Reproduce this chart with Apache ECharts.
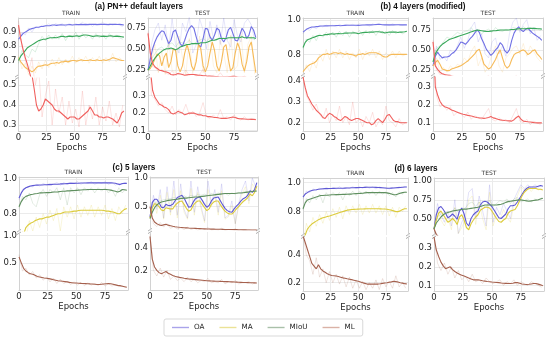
<!DOCTYPE html>
<html><head><meta charset="utf-8">
<script src="https://cdn.jsdelivr.net/npm/echarts@6/dist/echarts.min.js"></script>
<style>html,body{margin:0;padding:0;background:#fff}#c{width:550px;height:342px}</style>
</head><body><div id="c"></div><script>
// ---------- epochs ----------
const EP = [0,2,4,6,8,10,12,14,16,18,20,22,24,26,28,30,32,34,36,38,40,42,44,46,48,50,52,54,56,58,60,62,64,66,68,70,72,74,76,78,80,82,84,86,88,90,92,94];
const EP_RAW = [0,3,6,9,12,15,18,21,24,27,30,33,36,39,42,45,48,51,54,57,60,63,66,69,72,75,78,81,84,87,90,93];
const X_TICKS = [0,25,50,75];
const SERIES_NAMES = ['OA','MA','MIoU','ML'];

// ---------- (a) PN++ default layers ----------
const A_TRAIN_OA = [.85,.87,.89,.90,.91,.92,.925,.93, .935,.935,.94,.94,.945,.945,.945,.95, .95,.948,.95,.952,.95,.95,.952,.953, .95,.952,.953,.953,.955,.953,.955,.953, .955,.956,.955,.953,.955,.956,.955,.955, .953,.955,.956,.955,.954,.955,.953,.95];
const A_TRAIN_MIOU = [.70,.73,.75,.77,.79,.80,.81,.82, .83,.84,.845,.85,.85,.855,.86,.86, .862,.86,.865,.87,.87,.865,.87,.872, .87,.872,.875,.87,.875,.88,.88,.878, .875,.87,.872,.875,.873,.87,.872,.87, .872,.875,.872,.87,.872,.87,.868,.865];
const A_TRAIN_MA = [.72,.69,.67,.65,.64,.63,.62,.63, .65,.66,.66,.665,.67,.665,.675,.68, .68,.685,.68,.69,.69,.695,.69,.695, .70,.70,.695,.70,.705,.70,.70,.70, .705,.70,.70,.705,.70,.70,.705,.70, .705,.71,.72,.715,.71,.705,.70,.70];
const A_TRAIN_ML = [.95,.85,.78,.72,.67,.61,.55,.48, .40,.37,.38,.40,.43,.42,.41,.40, .38,.37,.37,.36,.35,.34,.33,.34, .34,.34,.33,.33,.34,.35,.36,.37, .39,.37,.35,.35,.34,.34,.335,.34, .34,.335,.33,.32,.31,.33,.36,.37];
const A_TRAIN_OA_RAW = [.84,.90,.88,.93,.90,.94,.93,.95, .94,.96,.94,.96,.95,.96,.94,.96, .95,.96,.95,.97,.95,.96,.94,.96, .95,.97,.95,.96,.95,.96,.95,.94];
const A_TRAIN_MIOU_RAW = [.68,.77,.74,.72,.78,.76,.82,.87, .84,.88,.85,.88,.85,.89,.84,.88, .86,.90,.85,.89,.86,.88,.85,.89, .86,.88,.85,.89,.86,.88,.86,.85];
const A_TRAIN_MA_RAW = [.74,.64,.68,.60,.66,.61,.69,.64, .70,.65,.71,.66,.72,.67,.71,.68, .73,.68,.72,.69,.73,.68,.72,.69, .73,.68,.72,.69,.75,.69,.72,.70];
const A_TRAIN_ML_RAW = [.98,.80,.70,.62,.72,.50,.58,.34, .45,.52,.30,.48,.36,.44,.30,.42, .31,.38,.29,.47,.30,.40,.33,.44, .30,.39,.32,.42,.30,.36,.29,.40];

const A_TEST_OA = [.25,.38,.50,.58,.64,.68,.71,.70, .63,.56,.60,.70,.72,.64,.56,.53, .60,.68,.74,.77,.74,.64,.55,.52, .62,.74,.73,.64,.60,.66,.74,.72, .62,.58,.63,.72,.75,.68,.60,.59, .66,.74,.70,.62,.66,.76,.72,.63];
const A_TEST_MIOU = [.25,.30,.35,.39,.42,.45,.47,.49, .50,.50,.51,.50,.49,.50,.52,.53, .54,.55,.55,.56,.56,.56,.56,.57, .57,.57,.58,.59,.60,.60,.61,.62, .62,.62,.62,.63,.63,.63,.63,.63, .63,.64,.63,.63,.63,.63,.63,.62];
const A_TEST_MA = [.25,.27,.32,.38,.44,.42,.30,.40, .45,.28,.35,.50,.48,.30,.23,.30, .45,.55,.45,.30,.25,.35,.55,.50, .30,.23,.30,.45,.58,.48,.30,.24, .35,.52,.55,.38,.24,.28,.45,.57, .50,.32,.24,.35,.52,.58,.40,.22];
const A_TEST_ML = [.68,.45,.33,.29,.27,.25,.245,.235, .23,.22,.20,.195,.20,.21,.205,.20, .19,.195,.20,.20,.20,.195,.19,.19, .185,.185,.18,.18,.178,.175,.175,.172, .17,.17,.17,.172,.175,.178,.175,.17, .168,.167,.166,.165,.165,.164,.165,.163];
const A_TEST_OA_RAW = [.25,.55,.72,.80,.60,.78,.50,.85, .55,.45,.80,.70,.88,.45,.55,.85, .72,.50,.82,.62,.78,.55,.86,.60, .52,.84,.65,.58,.80,.85,.78,.60];
const A_TEST_MIOU_RAW = [.25,.38,.44,.50,.52,.48,.55,.57, .52,.58,.57,.56,.60,.55,.58,.60, .62,.59,.63,.62,.60,.64,.63,.61, .64,.63,.62,.65,.63,.64,.62,.61];
const A_TEST_MA_RAW = [.25,.35,.55,.22,.48,.20,.60,.25, .22,.65,.40,.20,.62,.22,.40,.65, .22,.35,.68,.30,.22,.60,.45,.22, .66,.25,.30,.70,.22,.55,.65,.20];
const A_TEST_ML_RAW = [.70,.30,.28,.24,.26,.22,.20,.24, .19,.22,.20,.25,.19,.21,.18,.20, .26,.18,.17,.19,.17,.22,.17,.18, .16,.19,.17,.16,.18,.16,.17,.16];

// ---------- (b) 4 layers (modified) ----------
const B_TRAIN_OA = [.93,.94,.95,.955,.96,.96,.962,.963, .965,.965,.966,.966,.967,.967,.967,.968, .968,.967,.968,.969,.97,.97,.97,.97, .97,.969,.97,.971,.971,.972,.972,.972, .973,.974,.975,.974,.973,.972,.972,.972, .972,.972,.973,.973,.972,.972,.972,.972];
const B_TRAIN_MIOU = [.84,.87,.885,.89,.895,.90,.905,.91, .91,.912,.915,.915,.918,.92,.918,.92, .922,.92,.922,.925,.924,.925,.925,.926, .925,.92,.925,.927,.928,.928,.93,.93, .93,.932,.932,.93,.93,.925,.928,.93, .93,.93,.93,.928,.93,.93,.932,.935];
const B_TRAIN_MA = [.70,.715,.73,.74,.745,.75,.76,.78, .79,.80,.80,.805,.80,.805,.81,.81, .805,.81,.805,.80,.805,.80,.80,.795, .79,.80,.80,.805,.80,.805,.81,.81, .81,.81,.805,.80,.79,.785,.785,.795, .80,.80,.80,.80,.80,.80,.80,.80];
const B_TRAIN_ML = [.42,.37,.33,.31,.29,.275,.26,.25, .24,.225,.22,.235,.245,.24,.23,.225, .215,.21,.22,.23,.225,.215,.21,.215, .22,.22,.215,.21,.205,.20,.20,.19, .195,.21,.22,.21,.20,.215,.235,.24, .225,.21,.205,.205,.20,.20,.20,.20];
const B_TRAIN_OA_RAW = [.92,.95,.94,.96,.95,.965,.96,.97, .965,.97,.96,.975,.965,.975,.97,.975, .965,.978,.97,.975,.965,.978,.97,.98, .972,.975,.968,.978,.97,.975,.97,.975];
const B_TRAIN_MIOU_RAW = [.83,.89,.87,.91,.88,.92,.90,.93, .91,.93,.90,.935,.91,.935,.90,.935, .92,.94,.91,.94,.92,.94,.91,.94, .92,.935,.91,.94,.92,.935,.92,.93];
const B_TRAIN_MA_RAW = [.69,.74,.70,.76,.72,.80,.76,.83, .77,.82,.78,.83,.78,.82,.77,.81, .78,.83,.77,.82,.79,.83,.78,.82, .77,.81,.79,.82,.78,.82,.79,.80];
const B_TRAIN_ML_RAW = [.42,.33,.30,.26,.29,.24,.22,.27, .20,.24,.21,.28,.20,.23,.19,.30, .20,.22,.18,.23,.20,.25,.18,.21, .19,.28,.21,.20,.18,.22,.19,.20];

const B_TEST_OA = [.30,.42,.47,.43,.40,.41,.41,.42, .45,.47,.50,.55,.60,.59,.57,.60, .64,.67,.71,.75,.72,.64,.58,.51, .47,.43,.46,.50,.53,.59,.56,.49, .46,.50,.62,.71,.76,.79,.75,.73, .76,.77,.74,.71,.69,.67,.65,.62];
const B_TEST_MIOU = [.35,.45,.50,.54,.57,.59,.61,.63, .64,.65,.66,.67,.68,.69,.70,.71, .72,.73,.74,.75,.745,.74,.735,.73, .73,.735,.74,.74,.745,.75,.75,.75, .75,.752,.755,.755,.76,.765,.765,.765, .765,.77,.77,.77,.77,.765,.765,.76];
const B_TEST_MA = [.30,.34,.37,.32,.26,.25,.24,.24, .26,.27,.28,.29,.30,.32,.34,.36, .39,.42,.45,.49,.51,.42,.32,.29, .26,.28,.33,.38,.45,.50,.40,.31, .27,.30,.38,.44,.46,.47,.49,.50, .48,.44,.46,.49,.50,.45,.42,.38];
const B_TEST_ML = [.60,.30,.255,.22,.20,.19,.185,.18, .172,.167,.162,.157,.152,.148,.145,.142, .14,.137,.133,.13,.128,.127,.125,.127, .13,.135,.128,.125,.12,.117,.115,.113, .112,.111,.11,.118,.13,.138,.12,.11, .108,.106,.105,.103,.101,.10,.10,.10];
const B_TEST_OA_RAW = [.30,.55,.38,.42,.36,.50,.45,.55, .66,.52,.62,.78,.85,.60,.70,.45, .40,.60,.65,.45,.55,.42,.70,.85, .90,.72,.82,.88,.70,.78,.62,.68];
const B_TEST_MIOU_RAW = [.35,.52,.55,.60,.66,.64,.68,.72, .70,.73,.74,.78,.72,.75,.70,.74, .76,.72,.78,.74,.73,.76,.74,.78, .77,.75,.79,.76,.78,.75,.77,.74];
const B_TEST_MA_RAW = [.30,.40,.22,.28,.22,.30,.26,.32, .30,.40,.35,.48,.55,.30,.40,.22, .30,.45,.55,.30,.22,.40,.45,.52, .55,.45,.58,.42,.55,.48,.40,.35];
const B_TEST_ML_RAW = [.62,.25,.19,.20,.17,.19,.14,.16, .15,.13,.16,.12,.14,.13,.12,.15, .18,.12,.11,.13,.11,.12,.10,.14, .18,.11,.10,.12,.09,.11,.10,.09];

// ---------- (c) 5 layers ----------
const C_TRAIN_OA = [.89,.92,.94,.95,.955,.96,.962,.964, .965,.966,.966,.967,.967,.968,.968,.97, .97,.97,.972,.972,.973,.974,.975,.975, .975,.976,.976,.977,.977,.977,.978,.978, .978,.978,.978,.978,.978,.978,.978,.978, .978,.977,.976,.972,.968,.974,.976,.975];
const C_TRAIN_MIOU = [.84,.87,.89,.90,.905,.91,.912,.915, .917,.92,.92,.921,.922,.922,.923,.925, .925,.926,.928,.93,.93,.932,.932,.933, .934,.935,.936,.937,.938,.938,.94,.94, .94,.94,.94,.94,.94,.94,.94,.938, .936,.933,.93,.925,.93,.94,.938,.935];
const C_TRAIN_MA = [.60,.64,.68,.72,.735,.745,.75,.76, .765,.77,.77,.775,.78,.78,.785,.79, .795,.80,.80,.805,.81,.81,.81,.812, .815,.815,.818,.82,.82,.82,.82,.82, .82,.82,.82,.82,.82,.818,.815,.815, .812,.81,.805,.80,.80,.815,.825,.83];
const C_TRAIN_ML = [.61,.50,.40,.35,.32,.30,.29,.27, .25,.24,.23,.22,.215,.21,.20,.19, .18,.17,.165,.16,.155,.15,.14,.135, .13,.128,.125,.122,.12,.118,.115,.112, .11,.105,.10,.10,.105,.11,.115,.12, .115,.105,.095,.085,.08,.07,.06,.05];
const C_TRAIN_OA_RAW = [.88,.94,.95,.96,.955,.97,.96,.975, .965,.975,.97,.98,.965,.98,.97,.98, .975,.985,.97,.98,.975,.985,.97,.98, .975,.985,.97,.98,.965,.975,.97,.98];
const C_TRAIN_MIOU_RAW = [.83,.90,.88,.92,.86,.84,.91,.94, .90,.94,.92,.95,.88,.95,.85,.95, .92,.95,.91,.95,.93,.95,.92,.95, .93,.95,.92,.94,.90,.95,.92,.94];
const C_TRAIN_MA_RAW = [.58,.70,.66,.76,.70,.78,.72,.80, .74,.82,.76,.83,.70,.84,.78,.84, .77,.85,.78,.84,.79,.85,.78,.84, .79,.85,.77,.83,.76,.84,.80,.85];
const C_TRAIN_ML_RAW = [.65,.35,.40,.28,.34,.22,.28,.18, .24,.15,.22,.12,.20,.12,.16,.10, .15,.09,.14,.08,.13,.09,.12,.08, .14,.07,.12,.07,.10,.06,.08,.05];

const C_TEST_OA = [.32,.57,.63,.63,.57,.49,.48,.54, .52,.52,.54,.60,.66,.68,.70,.65, .57,.49,.50,.58,.64,.66,.67,.61, .54,.49,.52,.60,.65,.66,.67,.60, .53,.47,.43,.41,.40,.46,.51,.55, .60,.64,.66,.70,.78,.75,.80,.92];
const C_TEST_MIOU = [.29,.40,.48,.53,.56,.58,.59,.60, .61,.615,.62,.625,.63,.64,.645,.65, .65,.655,.66,.665,.67,.67,.675,.68, .685,.69,.695,.70,.705,.71,.715,.72, .725,.73,.73,.73,.73,.73,.735,.74, .74,.745,.75,.755,.76,.765,.77,.775];
const C_TEST_MA = [.30,.48,.55,.54,.50,.44,.43,.48, .47,.46,.46,.52,.56,.59,.60,.54, .47,.42,.44,.52,.57,.60,.60,.54, .48,.43,.46,.54,.58,.60,.60,.53, .47,.42,.39,.37,.37,.41,.46,.50, .55,.59,.62,.66,.72,.69,.75,.86];
const C_TEST_ML = [.50,.30,.23,.20,.18,.17,.18,.19, .175,.165,.155,.148,.142,.138,.135,.13, .127,.124,.122,.12,.118,.116,.114,.112, .11,.108,.107,.106,.105,.104,.103,.102, .101,.10,.10,.099,.098,.097,.096,.095, .094,.093,.092,.091,.09,.09,.089,.088];
const C_TEST_OA_RAW = [.32,.70,.45,.80,.30,.85,.40,.95, .35,.90,.45,.30,.95,.40,.85,.50, .25,.95,.55,.80,.40,.90,.30,.35, .60,.20,.55,.80,.95,.60,1.0,.85];
const C_TEST_MIOU_RAW = [.29,.55,.58,.60,.62,.63,.64,.66, .64,.67,.69,.66,.70,.68,.71,.70, .72,.69,.73,.71,.74,.72,.73,.70, .74,.72,.75,.74,.77,.75,.78,.78];
const C_TEST_MA_RAW = [.30,.60,.38,.70,.28,.75,.35,.80, .30,.78,.40,.28,.82,.35,.75,.45, .22,.80,.50,.70,.35,.78,.28,.32, .52,.20,.50,.72,.85,.55,.90,.80];
const C_TEST_ML_RAW = [.52,.20,.15,.22,.14,.20,.12,.15, .11,.13,.10,.14,.10,.12,.09,.11, .10,.13,.09,.10,.09,.12,.08,.10, .09,.11,.08,.09,.09,.10,.08,.09];

// ---------- (d) 6 layers ----------
const D_TRAIN_OA = [.90,.92,.93,.94,.945,.948,.95,.953, .955,.956,.957,.957,.958,.958,.959,.96, .96,.96,.96,.961,.962,.962,.963,.963, .964,.964,.965,.965,.966,.967,.967,.967, .967,.966,.965,.964,.963,.962,.96,.96, .961,.962,.963,.964,.965,.967,.968,.968];
const D_TRAIN_MIOU = [.82,.86,.88,.885,.89,.895,.90,.905, .91,.91,.912,.912,.914,.915,.915,.916, .916,.917,.918,.918,.919,.92,.92,.922, .923,.924,.925,.926,.928,.93,.93,.93, .93,.93,.93,.93,.93,.93,.928,.925, .92,.915,.915,.92,.925,.93,.932,.932];
const D_TRAIN_MA = [.57,.64,.68,.70,.715,.725,.735,.745, .752,.758,.762,.766,.77,.775,.78,.785, .79,.795,.80,.805,.81,.812,.814,.815, .816,.817,.818,.818,.819,.82,.82,.82, .82,.82,.82,.819,.818,.818,.816,.813, .81,.805,.80,.80,.805,.815,.82,.82];
const D_TRAIN_ML = [.54,.49,.44,.39,.34,.32,.30,.33, .30,.285,.275,.265,.258,.252,.25,.248, .245,.24,.235,.232,.228,.225,.222,.218, .214,.21,.205,.20,.195,.19,.19,.19, .19,.19,.19,.192,.195,.198,.20,.203, .206,.21,.208,.205,.20,.197,.193,.19];
const D_TRAIN_OA_RAW = [.89,.94,.93,.955,.945,.96,.95,.965, .955,.965,.955,.97,.955,.965,.96,.97, .96,.97,.96,.975,.96,.97,.955,.97, .96,.965,.955,.965,.96,.97,.965,.97];
const D_TRAIN_MIOU_RAW = [.81,.89,.86,.91,.88,.92,.86,.93, .90,.93,.91,.93,.88,.93,.91,.94, .91,.94,.92,.94,.92,.94,.91,.94, .92,.935,.91,.93,.90,.935,.92,.94];
const D_TRAIN_MA_RAW = [.56,.72,.66,.76,.70,.78,.72,.80, .74,.82,.76,.83,.75,.84,.78,.84, .79,.85,.78,.84,.79,.85,.79,.84, .78,.84,.77,.83,.76,.83,.80,.84];
const D_TRAIN_ML_RAW = [.56,.40,.36,.26,.38,.24,.30,.20, .28,.20,.26,.19,.25,.17,.24,.16, .22,.16,.21,.15,.20,.16,.22,.15, .23,.17,.21,.16,.25,.17,.20,.16];

const D_TEST_OA = [.36,.55,.64,.66,.62,.57,.51,.53, .56,.53,.49,.60,.64,.56,.44,.40, .50,.55,.58,.60,.68,.72,.73,.72, .69,.66,.61,.56,.51,.50,.53,.56, .63,.67,.67,.68,.72,.77,.82,.87, .90,.92,.92,.92,.92,.93,.94,.93];
const D_TEST_MIOU = [.36,.44,.48,.52,.55,.57,.58,.59, .60,.605,.61,.615,.62,.625,.625,.63, .635,.64,.645,.65,.66,.67,.68,.68, .68,.68,.68,.68,.685,.69,.70,.715, .725,.73,.735,.74,.745,.75,.745,.74, .735,.73,.735,.74,.745,.75,.76,.77];
const D_TEST_MA = [.36,.48,.57,.60,.55,.50,.45,.47, .50,.47,.42,.52,.55,.48,.38,.35, .43,.48,.52,.55,.61,.63,.65,.65, .64,.60,.55,.50,.46,.45,.48,.50, .57,.60,.61,.62,.67,.74,.80,.85, .88,.90,.90,.90,.90,.89,.89,.88];
const D_TEST_ML = [.36,.29,.255,.225,.205,.19,.195,.20, .185,.175,.167,.16,.155,.15,.145,.14, .135,.13,.13,.13,.128,.125,.123,.121, .12,.118,.117,.116,.115,.113,.112,.111, .11,.11,.112,.115,.115,.112,.108,.106, .105,.106,.108,.11,.11,.107,.103,.098];
const D_TEST_OA_RAW = [.36,.70,.55,.45,.60,.40,.75,.30, .45,.55,.85,.90,.50,.80,.60,.40, .95,.45,.65,.55,.70,.60,.50,.75, .85,.95,.90,.95,.90,.95,.92,.94];
const D_TEST_MIOU_RAW = [.36,.52,.56,.58,.60,.57,.64,.58, .62,.64,.70,.72,.66,.72,.68,.65, .74,.66,.70,.74,.72,.76,.70,.76, .78,.72,.74,.76,.72,.76,.74,.78];
const D_TEST_MA_RAW = [.36,.62,.48,.40,.52,.35,.65,.30, .38,.48,.75,.80,.42,.72,.50,.35, .85,.40,.55,.48,.62,.52,.45,.68, .80,.92,.88,.92,.86,.92,.88,.90];
const D_TEST_ML_RAW = [.38,.22,.18,.22,.16,.20,.14,.18, .13,.15,.12,.16,.12,.13,.11,.14, .12,.11,.12,.13,.10,.12,.11,.13, .10,.12,.11,.10,.12,.11,.10,.09];

// ---------- y tick labels ----------
const YT_A_TRAIN_UP = [0.7,0.8,0.9], YT_A_TRAIN_LO = [0.3,0.4,0.5];
const YT_A_TEST_UP = [0.25,0.5,0.75], YT_A_TEST_LO = [0.1,0.2,0.3];
const YT_B_TRAIN_UP = [0.8,1.0], YT_B_TRAIN_LO = [0.2,0.3,0.4];
const YT_B_TEST_UP = [0.25,0.5,0.75], YT_B_TEST_LO = [0.1,0.2,0.3];
const YT_C_TRAIN_UP = [0.8,1.0], YT_C_TRAIN_LO = [0.5,1.0];
const YT_C_TEST_UP = [0.5,1.0], YT_C_TEST_LO = [0.2,0.4];
const YT_D_TRAIN_UP = [0.8,1.0], YT_D_TRAIN_LO = [0.2,0.4];
const YT_D_TEST_UP = [0.5,0.75,1.0], YT_D_TEST_LO = [0.1,0.2,0.3];

// ---------- layout & styles ----------
function pack(oa,oar,ma,mar,mi,mir,ml,mlr){return {OA:[oa,oar],MA:[ma,mar],MIoU:[mi,mir],ML:[ml,mlr]};}
const PAL = [
  {OA:'#7070e4', MA:'#f6ba58', MIoU:'#38a85a', ML:'#f0605e'},
  {OA:'#5e58d4', MA:'#dccb3c', MIoU:'#5f8f5f', ML:'#a5604d'}
];
const LEGEND_COL = {OA:'#a9a3ea', MA:'#ebe296', MIoU:'#a9c0a9', ML:'#dab2a6'};
const GRIDC = '#ebebeb', BORDER = '#d2d2d2', TXT = '#262626', FONT = 'DejaVu Sans';
const TICK_FS = 8.5;

const PANELS = [
  {sub:'TRAIN', pal:0, L:17, R:125, T:18, K:77, B:131, up:[0.59,1.0], lo:[0.27,0.535], upT:YT_A_TRAIN_UP, loT:YT_A_TRAIN_LO, upD:1, loD:1,
   d:pack(A_TRAIN_OA,A_TRAIN_OA_RAW,A_TRAIN_MA,A_TRAIN_MA_RAW,A_TRAIN_MIOU,A_TRAIN_MIOU_RAW,A_TRAIN_ML,A_TRAIN_ML_RAW)},
  {sub:'TEST', pal:0, L:148, R:257, T:18, K:77, B:131, up:[0.182,0.86], lo:[0.098,0.4], upT:YT_A_TEST_UP, loT:YT_A_TEST_LO, upD:2, loD:1,
   d:pack(A_TEST_OA,A_TEST_OA_RAW,A_TEST_MA,A_TEST_MA_RAW,A_TEST_MIOU,A_TEST_MIOU_RAW,A_TEST_ML,A_TEST_ML_RAW)},
  {sub:'TRAIN', pal:0, L:303, R:408, T:18, K:76, B:131, up:[0.68,1.012], lo:[0.16,0.42], upT:YT_B_TRAIN_UP, loT:YT_B_TRAIN_LO, upD:1, loD:1,
   d:pack(B_TRAIN_OA,B_TRAIN_OA_RAW,B_TRAIN_MA,B_TRAIN_MA_RAW,B_TRAIN_MIOU,B_TRAIN_MIOU_RAW,B_TRAIN_ML,B_TRAIN_ML_RAW)},
  {sub:'TEST', pal:0, L:433, R:543, T:18, K:76, B:131, up:[0.185,0.9], lo:[0.055,0.355], upT:YT_B_TEST_UP, loT:YT_B_TEST_LO, upD:2, loD:1,
   d:pack(B_TEST_OA,B_TEST_OA_RAW,B_TEST_MA,B_TEST_MA_RAW,B_TEST_MIOU,B_TEST_MIOU_RAW,B_TEST_ML,B_TEST_ML_RAW)},
  {sub:'TRAIN', pal:1, L:19, R:128, T:177, K:232, B:290, up:[0.70,1.012], lo:[0,1.05], upT:YT_C_TRAIN_UP, loT:YT_C_TRAIN_LO, upD:1, loD:1,
   d:pack(C_TRAIN_OA,C_TRAIN_OA_RAW,C_TRAIN_MA,C_TRAIN_MA_RAW,C_TRAIN_MIOU,C_TRAIN_MIOU_RAW,C_TRAIN_ML,C_TRAIN_ML_RAW)},
  {sub:'TEST', pal:1, L:150, R:258, T:177, K:231, B:290, up:[0.09,1.02], lo:[0.026,0.54], upT:YT_C_TEST_UP, loT:YT_C_TEST_LO, upD:1, loD:1,
   d:pack(C_TEST_OA,C_TEST_OA_RAW,C_TEST_MA,C_TEST_MA_RAW,C_TEST_MIOU,C_TEST_MIOU_RAW,C_TEST_ML,C_TEST_ML_RAW)},
  {sub:'TRAIN', pal:1, L:303, R:408, T:178, K:236, B:291, up:[0.64,1.03], lo:[0.14,0.53], upT:YT_D_TRAIN_UP, loT:YT_D_TRAIN_LO, upD:1, loD:1,
   d:pack(D_TRAIN_OA,D_TRAIN_OA_RAW,D_TRAIN_MA,D_TRAIN_MA_RAW,D_TRAIN_MIOU,D_TRAIN_MIOU_RAW,D_TRAIN_ML,D_TRAIN_ML_RAW)},
  {sub:'TEST', pal:1, L:434, R:544, T:178, K:236, B:291, up:[0.28,1.04], lo:[0.07,0.36], upT:YT_D_TEST_UP, loT:YT_D_TEST_LO, upD:2, loD:1,
   d:pack(D_TEST_OA,D_TEST_OA_RAW,D_TEST_MA,D_TEST_MA_RAW,D_TEST_MIOU,D_TEST_MIOU_RAW,D_TEST_ML,D_TEST_ML_RAW)}
];
const TITLES = [
  {text:'(a) PN++ default layers', x:139, y:7},
  {text:'(b) 4 layers (modified)', x:423, y:7},
  {text:'(c) 5 layers', x:134, y:168},
  {text:'(d) 6 layers', x:416, y:169}
];

const grids=[], xAxes=[], yAxes=[], series=[], graphics=[];
PANELS.forEach(p => {
  ['up','lo'].forEach(part => {
    const gi = grids.length;
    const top = part==='up' ? p.T : p.K+1;
    const bot = part==='up' ? p.K-1 : p.B;
    grids.push({left:p.L, top:top, width:p.R-p.L, height:bot-top});
    xAxes.push({
      type:'value', gridIndex:gi, min:0, max:95, position: part==='up'?'top':'bottom',
      axisLine:{show:true, onZero:false, lineStyle:{color:BORDER, width:1}},
      axisTick:{show:false, customValues:X_TICKS},
      axisLabel:{show: part==='lo', customValues:X_TICKS, margin:2, fontSize:TICK_FS, color:TXT, fontFamily:FONT},
      splitLine:{show:true, lineStyle:{color:GRIDC, width:1}},
      name: part==='lo' ? 'Epochs' : '', nameLocation:'middle', nameGap:11,
      nameTextStyle:{fontSize:8.5, color:TXT, fontFamily:FONT}
    });
    const rng = part==='up' ? p.up : p.lo;
    const ticks = part==='up' ? p.upT : p.loT;
    const dec = part==='up' ? p.upD : p.loD;
    const yi = yAxes.length;
    yAxes.push({
      type:'value', gridIndex:gi, min:rng[0], max:rng[1], position:'left',
      axisLine:{show:true, onZero:false, lineStyle:{color:BORDER, width:1}},
      axisTick:{show:false, customValues:ticks},
      axisLabel:{customValues:ticks, formatter:v=>Number(v).toFixed(dec), margin:2, fontSize:TICK_FS, color:TXT, fontFamily:FONT},
      splitLine:{show:true, lineStyle:{color:GRIDC, width:1}}
    });
    yAxes.push({
      type:'value', gridIndex:gi, min:rng[0], max:rng[1], position:'right',
      axisLine:{show:true, onZero:false, lineStyle:{color:BORDER, width:1}},
      axisTick:{show:false}, axisLabel:{show:false}, splitLine:{show:false}
    });
    const names = part==='up' ? SERIES_NAMES : ['ML'];
    names.forEach(n => {
      const col = PAL[p.pal][n];
      const raw = p.d[n][1];
      series.push({type:'line', name:n, xAxisIndex:gi, yAxisIndex:yi, symbol:'none', silent:true, z:2,
        data: EP_RAW.map((e,i)=>[e, raw[i]]), lineStyle:{color:col, width:0.8, opacity:0.22}, itemStyle:{color:col}});
    });
    names.forEach(n => {
      const col = PAL[p.pal][n];
      const sm = p.d[n][0];
      series.push({type:'line', name:n, xAxisIndex:gi, yAxisIndex:yi, symbol:'none', silent:true, z:3,
        data: EP.map((e,i)=>[e, sm[i]]), lineStyle:{color:col, width:1.1}, itemStyle:{color:col}});
    });
  });
  graphics.push({type:'text', x:(p.L+p.R)/2, y:p.T-4.5, silent:true,
    style:{text:p.sub, font:'6px "DejaVu Sans"', fill:'#333', textAlign:'center', textVerticalAlign:'middle'}});
  [p.L, p.R].forEach(x => {
    [-1.3, 1.3].forEach(dy => {
      graphics.push({type:'line', silent:true,
        shape:{x1:x-2, y1:p.K+dy+1.3, x2:x+2, y2:p.K+dy-1.3},
        style:{stroke:'#9a9a9a', lineWidth:0.8}});
    });
  });
});
TITLES.forEach(t => graphics.push({type:'text', x:t.x, y:t.y, silent:true,
  style:{text:t.text, font:'bold 8.2px "Liberation Sans"', fill:'#111', textAlign:'center', textVerticalAlign:'middle'}}));

const chart = echarts.init(document.getElementById('c'), null, {renderer:'canvas'});
chart.setOption({
  animation:false,
  backgroundColor:'#ffffff',
  grid:grids, xAxis:xAxes, yAxis:yAxes, series:series, graphic:graphics,
  legend:{
    left:164, top:319, orient:'horizontal', selectedMode:false,
    icon:'rect', itemWidth:17, itemHeight:1.4, itemGap:15,
    padding:[5,8,5,8], borderColor:'#cfcfcf', borderWidth:0.8, borderRadius:2, backgroundColor:'#fff',
    textStyle:{fontSize:7.2, color:TXT, fontFamily:FONT},
    data: SERIES_NAMES.map(n => ({name:n, itemStyle:{color:LEGEND_COL[n], opacity:1, borderWidth:0}}))
  }
});
</script></body></html>
